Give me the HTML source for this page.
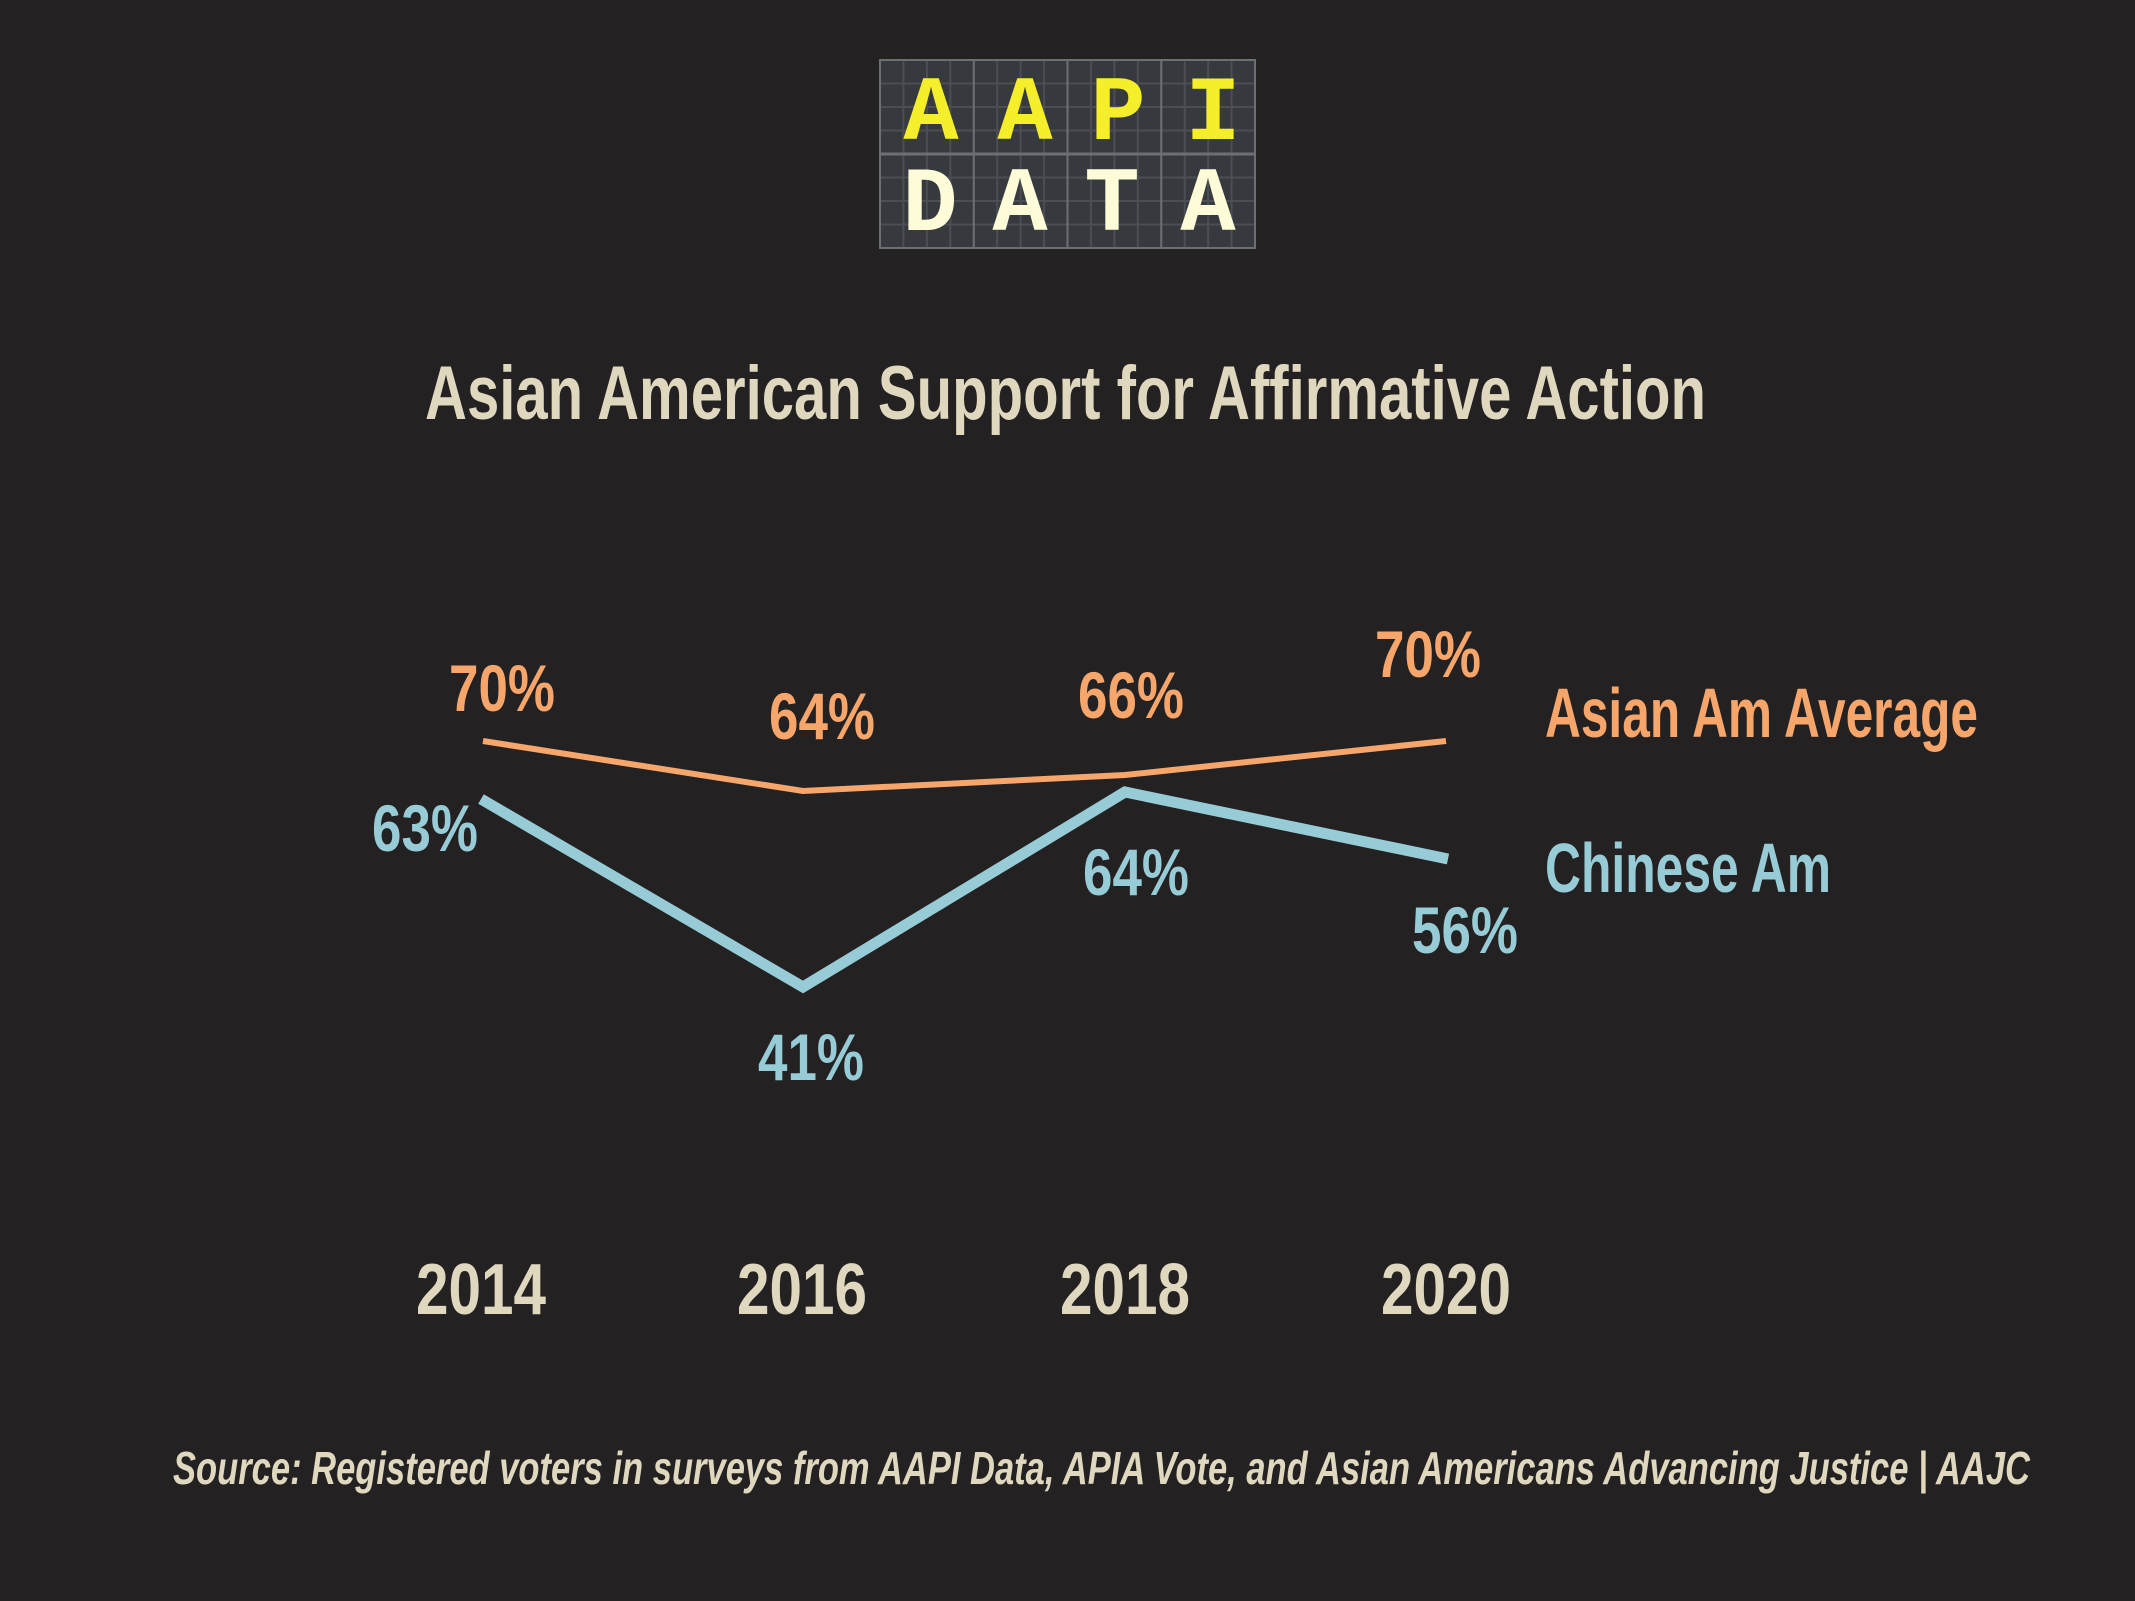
<!DOCTYPE html>
<html><head><meta charset="utf-8"><style>
html,body{margin:0;padding:0;background:#232122;}
svg{display:block}
text{font-family:"Liberation Sans Narrow","Liberation Sans",sans-serif;font-weight:bold}
</style></head><body>
<svg width="2135" height="1601" viewBox="0 0 2135 1601" xmlns="http://www.w3.org/2000/svg">
<rect width="2135" height="1601" fill="#232122"/>
<!-- logo -->
<rect x="880" y="60" width="375" height="188" fill="#363a3e"/>
<g stroke="#4b4f53" stroke-width="2">
<line x1="903.4" y1="60" x2="903.4" y2="248"/><line x1="926.9" y1="60" x2="926.9" y2="248"/><line x1="950.3" y1="60" x2="950.3" y2="248"/>
<line x1="997.2" y1="60" x2="997.2" y2="248"/><line x1="1020.6" y1="60" x2="1020.6" y2="248"/><line x1="1044.1" y1="60" x2="1044.1" y2="248"/>
<line x1="1090.9" y1="60" x2="1090.9" y2="248"/><line x1="1114.4" y1="60" x2="1114.4" y2="248"/><line x1="1137.8" y1="60" x2="1137.8" y2="248"/>
<line x1="1184.7" y1="60" x2="1184.7" y2="248"/><line x1="1208.1" y1="60" x2="1208.1" y2="248"/><line x1="1231.6" y1="60" x2="1231.6" y2="248"/>
<line x1="880" y1="83.5" x2="1255" y2="83.5"/><line x1="880" y1="107" x2="1255" y2="107"/><line x1="880" y1="130.5" x2="1255" y2="130.5"/>
<line x1="880" y1="177.5" x2="1255" y2="177.5"/><line x1="880" y1="201" x2="1255" y2="201"/><line x1="880" y1="224.5" x2="1255" y2="224.5"/>
</g>
<g stroke="#6d7073" stroke-width="2" fill="none">
<rect x="880" y="60" width="375" height="188"/>
<line x1="973.75" y1="60" x2="973.75" y2="248"/><line x1="1067.5" y1="60" x2="1067.5" y2="248"/><line x1="1161.25" y1="60" x2="1161.25" y2="248"/>
<line x1="880" y1="154" x2="1255" y2="154" stroke-width="3"/>
</g>
<g style="font-family:'Liberation Mono',monospace;font-weight:bold" font-size="92" text-anchor="middle">
<text x="931" y="139" fill="#f5ee2a" style="font-family:'Liberation Mono',monospace">A</text>
<text x="1025" y="139" fill="#f5ee2a" style="font-family:'Liberation Mono',monospace">A</text>
<text x="1118" y="139" fill="#f5ee2a" style="font-family:'Liberation Mono',monospace">P</text>
<text x="1213" y="139" fill="#f5ee2a" style="font-family:'Liberation Mono',monospace">I</text>
<text x="930" y="230" fill="#fdfbd8" style="font-family:'Liberation Mono',monospace">D</text>
<text x="1020" y="230" fill="#fdfbd8" style="font-family:'Liberation Mono',monospace">A</text>
<text x="1112" y="230" fill="#fdfbd8" style="font-family:'Liberation Mono',monospace">T</text>
<text x="1208" y="230" fill="#fdfbd8" style="font-family:'Liberation Mono',monospace">A</text>
</g>
<!-- title -->
<text x="425" y="419" font-size="76" fill="#dfd8bf" textLength="1281" lengthAdjust="spacingAndGlyphs">Asian American Support for Affirmative Action</text>
<!-- lines -->
<polyline points="483,741 803,791 1125,775 1446,741" fill="none" stroke="#f7a66b" stroke-width="6"/>
<polyline points="481,799 803,987 1125,792 1448,859" fill="none" stroke="#97cbd6" stroke-width="11"/>
<!-- labels -->
<g font-size="66" text-anchor="middle" lengthAdjust="spacingAndGlyphs">
<text x="502" y="711" fill="#f7a66b" textLength="106" lengthAdjust="spacingAndGlyphs">70%</text>
<text x="822" y="739" fill="#f7a66b" textLength="106" lengthAdjust="spacingAndGlyphs">64%</text>
<text x="1131" y="718" fill="#f7a66b" textLength="106" lengthAdjust="spacingAndGlyphs">66%</text>
<text x="1428" y="677" fill="#f7a66b" textLength="106" lengthAdjust="spacingAndGlyphs">70%</text>
<text x="425" y="851" fill="#97cbd6" textLength="106" lengthAdjust="spacingAndGlyphs">63%</text>
<text x="811" y="1080" fill="#97cbd6" textLength="106" lengthAdjust="spacingAndGlyphs">41%</text>
<text x="1136" y="895" fill="#97cbd6" textLength="106" lengthAdjust="spacingAndGlyphs">64%</text>
<text x="1465" y="953" fill="#97cbd6" textLength="106" lengthAdjust="spacingAndGlyphs">56%</text>
</g>
<text x="1545" y="737" font-size="70" fill="#f7a66b" textLength="433" lengthAdjust="spacingAndGlyphs">Asian Am Average</text>
<text x="1545" y="892" font-size="70" fill="#97cbd6" textLength="286" lengthAdjust="spacingAndGlyphs">Chinese Am</text>
<!-- years -->
<g font-size="72" fill="#dfd8bf" text-anchor="middle">
<text x="481" y="1314" textLength="130" lengthAdjust="spacingAndGlyphs">2014</text>
<text x="802" y="1314" textLength="130" lengthAdjust="spacingAndGlyphs">2016</text>
<text x="1125" y="1314" textLength="130" lengthAdjust="spacingAndGlyphs">2018</text>
<text x="1446" y="1314" textLength="130" lengthAdjust="spacingAndGlyphs">2020</text>
</g>
<text x="173" y="1484" font-size="46" font-style="italic" fill="#dfd8bf" textLength="1857" lengthAdjust="spacingAndGlyphs">Source: Registered voters in surveys from AAPI Data, APIA Vote, and Asian Americans Advancing Justice | AAJC</text>
</svg>
</body></html>
